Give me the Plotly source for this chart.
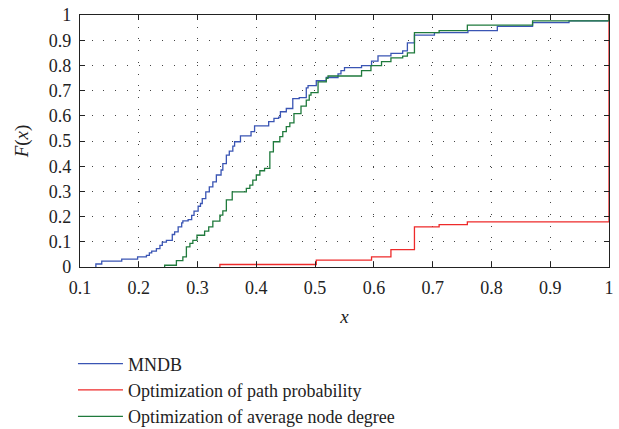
import plotly.graph_objects as go

# MNDB empirical CDF (jump locations and values after jump)
mndb_x = [0.127, 0.127, 0.137, 0.171, 0.198, 0.213, 0.218, 0.222, 0.230, 0.236,
          0.240, 0.247, 0.257, 0.261, 0.267, 0.273, 0.275, 0.284, 0.290, 0.294,
          0.301, 0.305, 0.308, 0.314, 0.320, 0.326, 0.332, 0.340, 0.343, 0.349,
          0.354, 0.360, 0.363, 0.373, 0.391, 0.397, 0.421, 0.430, 0.438, 0.441,
          0.451, 0.462, 0.473, 0.485, 0.488, 0.502, 0.519, 0.539, 0.544, 0.550,
          0.579, 0.596, 0.607, 0.629, 0.649, 0.657, 0.669, 0.703, 0.760, 0.810,
          0.870, 0.932, 1.0]
mndb_F = [0.0, 0.012, 0.023, 0.031, 0.040, 0.046, 0.056, 0.063, 0.073, 0.086,
          0.099, 0.106, 0.129, 0.139, 0.159, 0.175, 0.183, 0.188, 0.205, 0.222,
          0.241, 0.252, 0.271, 0.298, 0.318, 0.338, 0.365, 0.385, 0.410, 0.444,
          0.460, 0.480, 0.497, 0.520, 0.537, 0.560, 0.577, 0.590, 0.595, 0.616,
          0.629, 0.668, 0.672, 0.711, 0.720, 0.739, 0.752, 0.766, 0.779, 0.791,
          0.799, 0.817, 0.838, 0.848, 0.858, 0.889, 0.920, 0.930, 0.938, 0.955,
          0.970, 0.977, 1.0]

# Optimization of path probability
path_x = [0.338, 0.338, 0.502, 0.596, 0.629, 0.669, 0.711, 0.759, 1.0]
path_F = [0.0, 0.010, 0.027, 0.040, 0.069, 0.159, 0.168, 0.179, 1.0]

# Optimization of average node degree
deg_x = [0.244, 0.244, 0.264, 0.275, 0.281, 0.287, 0.292, 0.299, 0.312, 0.319,
         0.326, 0.338, 0.343, 0.349, 0.359, 0.383, 0.389, 0.394, 0.400, 0.406,
         0.414, 0.423, 0.429, 0.440, 0.445, 0.451, 0.457, 0.464, 0.476, 0.485,
         0.490, 0.493, 0.505, 0.519, 0.522, 0.579, 0.595, 0.613, 0.629, 0.649,
         0.657, 0.669, 0.711, 0.759, 0.870, 1.0]
deg_F = [0.0, 0.007, 0.025, 0.040, 0.080, 0.094, 0.106, 0.126, 0.142, 0.159,
         0.182, 0.206, 0.223, 0.266, 0.298, 0.312, 0.325, 0.345, 0.365, 0.382,
         0.391, 0.457, 0.497, 0.517, 0.537, 0.557, 0.572, 0.609, 0.638, 0.662,
         0.682, 0.692, 0.735, 0.749, 0.758, 0.779, 0.799, 0.815, 0.830, 0.837,
         0.850, 0.930, 0.938, 0.960, 0.977, 1.0]

x_ticks = [0.1, 0.2, 0.3, 0.4, 0.5, 0.6, 0.7, 0.8, 0.9, 1.0]
x_labels = ["0.1", "0.2", "0.3", "0.4", "0.5", "0.6", "0.7", "0.8", "0.9", "1"]
y_ticks = [0, 0.1, 0.2, 0.3, 0.4, 0.5, 0.6, 0.7, 0.8, 0.9, 1.0]
y_labels = ["0", "0.1", "0.2", "0.3", "0.4", "0.5", "0.6", "0.7", "0.8", "0.9", "1"]

FONT = "Liberation Serif, Times New Roman, Times, serif"

fig = go.Figure()
fig.add_trace(go.Scatter(x=mndb_x, y=mndb_F, mode="lines", name="MNDB",
                         line=dict(color="#3a55b4", width=1.3, shape="hv")))
fig.add_trace(go.Scatter(x=path_x, y=path_F, mode="lines",
                         name="Optimization of path probability",
                         line=dict(color="#ee2a2a", width=1.3, shape="hv")))
fig.add_trace(go.Scatter(x=deg_x, y=deg_F, mode="lines",
                         name="Optimization of average node degree",
                         line=dict(color="#1f7a3c", width=1.3, shape="hv")))

axis_common = dict(
    showline=True, linecolor="#222", linewidth=1.2, mirror="allticks",
    ticks="inside", ticklen=5, tickcolor="#222", tickwidth=1.2,
    showgrid=True, gridcolor="#444", gridwidth=1, griddash="1px,10.7px",
    zeroline=False, tickfont=dict(family=FONT, size=18, color="#222"),
)

fig.update_xaxes(range=[0.1, 1.0], tickvals=x_ticks, ticktext=x_labels,
                 ticklabelstandoff=4,
                 title=dict(text="<i>x</i>", font=dict(family=FONT, size=19, color="#222"),
                            standoff=12),
                 **axis_common)
fig.update_yaxes(range=[0, 1.0], tickvals=y_ticks, ticktext=y_labels,
                 ticklabelstandoff=4,
                 title=dict(text="<i>F</i>(<i>x</i>)", font=dict(family=FONT, size=19, color="#222"),
                            standoff=15),
                 **axis_common)

fig.update_layout(
    width=619, height=429,
    margin=dict(l=80, r=10, t=15, b=162, autoexpand=False),
    plot_bgcolor="white", paper_bgcolor="white",
    font=dict(family=FONT, size=18, color="#222"),
    legend=dict(x=-0.0133, y=-0.311, xanchor="left", yanchor="top",
                orientation="v", bgcolor="rgba(0,0,0,0)",
                font=dict(family=FONT, size=18, color="#222"),
                itemwidth=45, tracegroupgap=0),
    showlegend=True,
)

fig.write_html("out.html")
